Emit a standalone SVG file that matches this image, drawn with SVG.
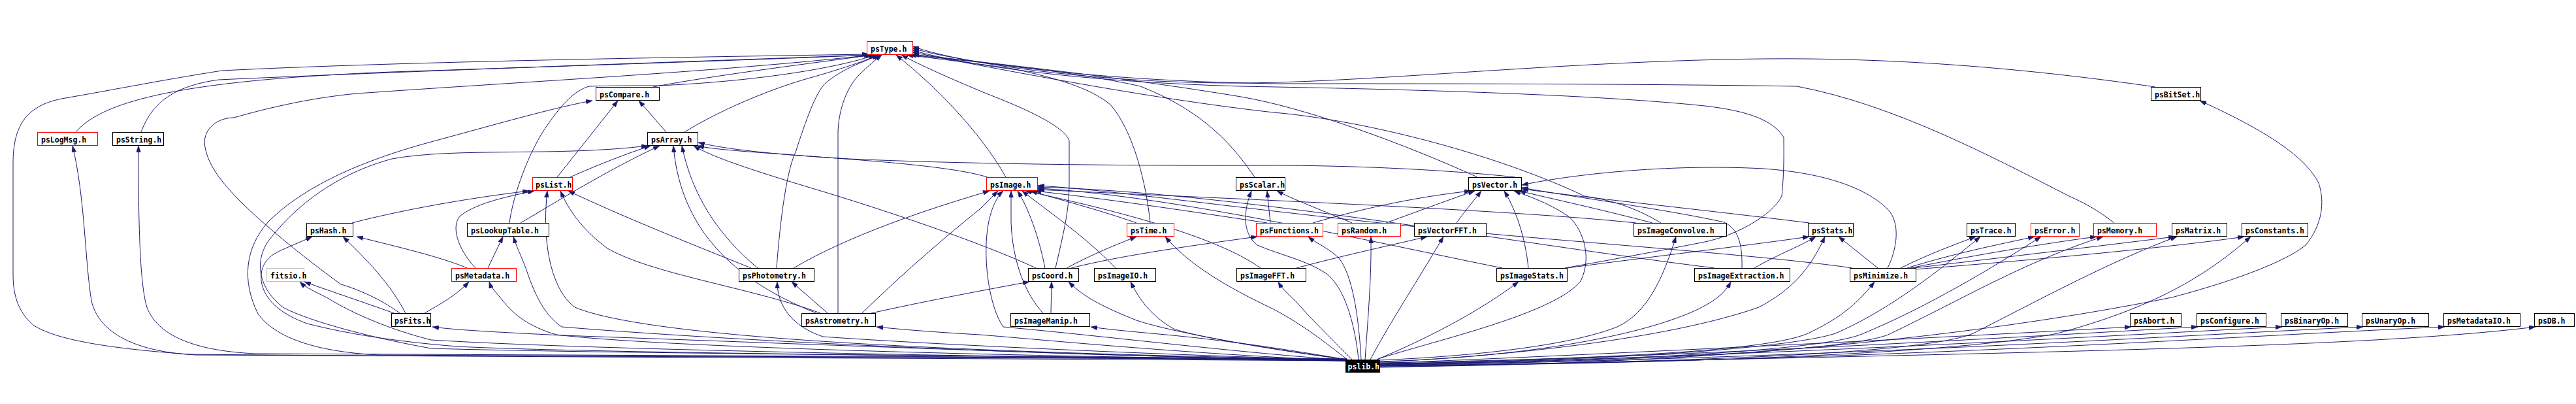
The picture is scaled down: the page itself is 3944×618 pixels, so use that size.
<svg xmlns="http://www.w3.org/2000/svg" width="3944" height="618" viewBox="0 0 3944 618">
<style>
.n rect{fill:#fff;stroke:#000;stroke-width:1}
.n.r rect{stroke:#f00}
.n.g rect{stroke:#bfbfbf}
.n.k rect{fill:#000}
.n text{font-family:"DejaVu Sans Mono","Liberation Mono",monospace;font-size:11.5px;font-weight:bold;fill:#000}
.n.k text{fill:#fff}
#edges path{fill:none;stroke:#191970;stroke-width:1;marker-end:url(#a)}
</style>
<defs>
<marker id="a" viewBox="0 0 10 7" refX="10" refY="3.5" markerWidth="10" markerHeight="7" markerUnits="userSpaceOnUse" orient="auto"><path d="M0,0L10,3.5L0,7z" fill="#191970" stroke="#191970" stroke-width="0.5"/></marker>
</defs>
<rect width="3944" height="618" fill="#fff"/>
<g id="edges">
<path d="M1000,133 C1100,114 1250,96 1336,84"/>
<path d="M3300,133 C3100,104 2900,88 2700,90 C2400,93 2100,126 1900,127 C1700,128 1480,100 1397,71"/>
<path d="M116,202 C160,150 300,122 600,110 C900,100 1200,90 1333,84"/>
<path d="M216,202 C232,160 262,132 335,122 C600,110 1000,96 1334,84"/>
<path d="M1048,202 C1100,170 1170,140 1230,122 C1280,108 1320,95 1345,84"/>
<path d="M1020,202 L978,154"/>
<path d="M853,271 L946,154"/>
<path d="M873,271 C920,250 960,235 996,223"/>
<path d="M1540,271 C1500,200 1430,130 1372,84"/>
<path d="M1512,271 C1450,252 1300,244 1200,236 C1130,231 1090,228 1068,223"/>
<path d="M1921,271 C1880,210 1830,165 1746,132 C1650,110 1500,95 1393,84"/>
<path d="M1761,341 C1755,280 1735,200 1700,160 C1670,135 1620,120 1550,105 C1480,95 1420,88 1388,84"/>
<path d="M1616,410 C1630,350 1637,320 1637,280 L1637,215 C1630,195 1580,170 1510,143 C1450,118 1410,100 1380,84"/>
<path d="M2262,271 C2150,220 2000,165 1900,148 C1700,115 1500,95 1397,83"/>
<path d="M2543,341 C2500,315 2460,305 2426,300 C2300,240 2100,185 1950,172 C1750,150 1500,100 1397,80"/>
<path d="M3237,341 C3210,320 3190,310 3168,300 C3050,240 2900,160 2751,132 C2500,128 2200,128 1960,128 C1700,125 1480,98 1397,74"/>
<path d="M2396,410 C2480,395 2560,380 2600,372 C2655,363 2713,330 2728,300 C2732,260 2731,230 2731,210 C2715,185 2680,170 2610,162 C2400,140 2000,134 1900,132 C1650,125 1480,100 1397,77"/>
<path d="M539,341 C600,325 700,305 810,292"/>
<path d="M780,341 C785,300 810,230 839,190 C860,160 880,138 902,132 C940,131 980,131 1008,131 C1150,125 1280,105 1340,84"/>
<path d="M797,341 C850,310 930,260 1010,223"/>
<path d="M747,410 L770,362"/>
<path d="M715,410 C680,395 620,380 546,362"/>
<path d="M728,410 C700,380 690,345 705,330 C730,310 780,300 818,292"/>
<path d="M603,479 C550,460 490,440 466,431"/>
<path d="M621,479 C600,440 575,410 525,362"/>
<path d="M650,479 C680,462 700,450 718,431"/>
<path d="M612,479 C580,455 540,440 522,435 C460,390 400,340 370,310 C340,280 315,250 313,217 C315,190 340,180 358,180 C400,168 470,150 547,143 C800,125 1100,110 1336,84"/>
<path d="M1267,479 L1212,431"/>
<path d="M1283,479 L1283,200 C1285,160 1300,130 1315,115 C1330,100 1340,92 1350,84"/>
<path d="M1334,479 C1420,460 1500,445 1576,431"/>
<path d="M1320,479 C1380,420 1450,360 1500,320 C1515,305 1522,298 1528,292"/>
<path d="M1256,479 C1150,440 1000,420 930,380 C890,350 870,320 858,292"/>
<path d="M1250,479 C1100,420 1040,330 1031,223"/>
<path d="M1189,410 C1195,330 1205,260 1218,233 C1235,180 1250,140 1264,127 C1290,105 1320,95 1348,84"/>
<path d="M1160,410 C1100,360 1060,300 1044,223"/>
<path d="M1215,410 C1300,360 1420,320 1515,292"/>
<path d="M1150,410 C1050,370 950,330 870,292"/>
<path d="M1600,410 C1590,360 1575,320 1558,292"/>
<path d="M1633,410 C1680,385 1720,370 1740,362"/>
<path d="M1640,410 C1720,390 1830,375 1925,362"/>
<path d="M1586,410 C1500,370 1350,320 1250,290 C1150,260 1090,240 1062,223"/>
<path d="M1597,479 C1570,450 1550,400 1548,340 L1548,292"/>
<path d="M1609,479 L1610,431"/>
<path d="M1708,410 C1660,360 1600,320 1565,292"/>
<path d="M1930,410 C1860,360 1700,320 1570,292"/>
<path d="M1985,410 C2060,390 2130,375 2185,362"/>
<path d="M2230,341 C2245,320 2258,305 2268,292"/>
<path d="M2010,341 C2100,315 2180,300 2252,292"/>
<path d="M1945,341 L1940,292"/>
<path d="M1740,341 C1680,320 1620,305 1578,292"/>
<path d="M1940,341 C1800,320 1700,305 1584,292"/>
<path d="M2122,341 C2180,320 2220,305 2258,292"/>
<path d="M2070,341 C2020,320 1980,305 1955,292"/>
<path d="M2505,341 C2300,320 1900,305 1589,290"/>
<path d="M2530,341 C2450,320 2380,305 2326,292"/>
<path d="M2770,341 C2600,320 2450,305 2330,289"/>
<path d="M2399,410 C2550,390 2680,375 2770,362"/>
<path d="M2686,410 C2720,390 2760,375 2780,362"/>
<path d="M2300,410 C2100,370 1800,300 1589,288"/>
<path d="M2340,410 C2335,360 2320,320 2303,292"/>
<path d="M2625,410 C2300,370 1900,295 1589,286"/>
<path d="M2667,410 C2668,370 2660,350 2640,340 C2550,320 2400,300 2330,287"/>
<path d="M2890,410 C2905,380 2910,340 2890,320 C2860,290 2800,265 2700,258 C2550,250 2400,268 2330,283"/>
<path d="M2875,410 L2815,362"/>
<path d="M2910,410 C2950,390 2990,375 3025,362"/>
<path d="M2920,410 C3000,385 3080,370 3115,362"/>
<path d="M2925,410 C3050,385 3150,370 3210,362"/>
<path d="M2930,410 C3100,390 3250,372 3330,362"/>
<path d="M2932,412 C3150,395 3350,375 3436,362"/>
<path d="M2836,410 C2700,390 2400,370 2200,350 C1900,320 1700,290 1589,284"/>
<path d="M2320,271 C2200,258 2050,253 1950,253 C1700,254 1450,250 1300,243 C1180,236 1110,228 1069,218"/>
<path d="M2062,552 C1500,548 700,546 290,542 C180,534 90,522 52,498 C30,480 20,455 20,420 L20,250 C20,192 40,160 100,150 C170,138 250,122 340,108 C600,95 1000,88 1330,83"/>
<path d="M2062,551 C1500,546 700,545 300,543 C200,538 150,505 140,460 C130,400 130,300 111,223"/>
<path d="M2062,550 C1500,545 800,543 390,541 C290,536 240,510 225,470 C212,430 212,300 212,223"/>
<path d="M2062,549 C1500,546 900,545 580,543 C480,538 420,515 395,480 C370,430 375,380 410,340 C450,300 520,255 660,217 C760,190 850,164 907,154"/>
<path d="M2062,549 C1500,545 900,540 660,533 C560,515 470,490 433,470 C395,440 390,400 410,370 C440,330 500,270 600,243 C700,225 850,240 992,223"/>
<path d="M2062,550 C1500,540 1000,520 880,470 C840,440 830,360 838,292"/>
<path d="M2062,551 C1900,540 1700,515 1536,500 C1515,470 1505,400 1512,350 C1516,320 1527,300 1536,292"/>
<path d="M2080,550 C2075,500 2060,440 2030,418 C2000,398 1960,390 1925,375 C1900,355 1905,320 1916,292"/>
<path d="M2062,550 C1500,545 900,540 700,530 C600,522 530,510 470,495 C430,480 405,460 400,430 C398,405 410,392 430,383 C450,374 465,368 478,362"/>
<path d="M2062,551 C1600,545 1100,520 860,500 C830,480 815,440 805,410 C795,385 790,375 786,362"/>
<path d="M2063,550 C2030,525 2000,500 1950,473 C1880,440 1820,405 1784,362"/>
<path d="M2084,550 C2080,480 2070,420 2050,395 C2035,380 2015,372 2003,362"/>
<path d="M2090,550 C2095,480 2100,420 2099,362"/>
<path d="M2098,550 C2130,490 2170,430 2210,362"/>
<path d="M2108,550 C2180,520 2260,480 2325,431"/>
<path d="M2110,549 C2200,520 2380,480 2420,430 C2440,390 2420,345 2400,330 C2370,310 2340,300 2318,292"/>
<path d="M2112,551 C2250,545 2400,530 2476,500 C2520,480 2545,430 2566,362"/>
<path d="M2112,553 C2300,548 2500,520 2600,473 C2625,460 2640,450 2650,431"/>
<path d="M2112,554 C2300,545 2550,520 2693,470 C2740,445 2770,415 2794,362"/>
<path d="M2112,555 C2400,550 2700,540 2768,510 C2810,490 2840,470 2870,431"/>
<path d="M2112,556 C2500,552 2750,530 2810,510 C2880,480 2950,430 3032,362"/>
<path d="M2112,557 C2500,553 2800,535 2853,510 C2950,470 3050,410 3125,362"/>
<path d="M2112,558 C2500,554 2850,535 2895,510 C3000,460 3100,400 3220,362"/>
<path d="M2112,559 C2600,555 2950,540 3021,510 C3120,460 3230,400 3333,362"/>
<path d="M2112,560 C2600,556 3000,540 3150,510 C3300,470 3380,420 3446,362"/>
<path d="M2112,561 C2700,558 3100,500 3325,455 C3420,430 3500,400 3530,375 C3555,345 3560,310 3550,280 C3530,240 3470,200 3368,154"/>
<path d="M2112,556 C2500,540 3000,515 3263,500"/>
<path d="M2112,557 C2600,545 3100,515 3365,500"/>
<path d="M2112,558 C2700,545 3200,515 3494,500"/>
<path d="M2112,559 C2800,548 3300,515 3618,500"/>
<path d="M2112,560 C2900,552 3400,515 3743,500"/>
<path d="M2112,562 C3000,540 3600,535 3882,500"/>
<path d="M2062,552 C1700,545 1200,525 860,513 C760,508 700,505 662,500"/>
<path d="M2062,552 C1800,540 1600,520 1500,512 C1430,508 1380,504 1342,500"/>
<path d="M2062,550 C2000,540 1900,522 1763,510 C1720,506 1690,503 1670,500"/>
<path d="M2062,552 C1500,546 900,535 660,520 C600,505 540,480 500,455 C480,445 468,440 459,431"/>
<path d="M2062,551 C1500,545 1000,530 852,512 C810,500 785,480 770,460 C760,448 752,440 749,431"/>
<path d="M2062,551 C1700,540 1400,525 1260,515 C1215,500 1190,470 1190,431"/>
<path d="M2062,550 C1950,535 1800,510 1740,490 C1690,470 1660,455 1636,431"/>
<path d="M2062,550 C1950,535 1830,515 1797,503 C1765,485 1745,460 1731,431"/>
<path d="M2070,550 C2040,520 2000,480 1985,462 C1970,448 1962,440 1957,431"/>
</g>
<g id="node-psType" class="n r"><rect x="1327.5" y="63.5" width="70" height="20"/><text x="1333" y="78.5">psType.h</text></g>
<g id="node-psCompare" class="n"><rect x="912.5" y="133.5" width="97" height="20"/><text x="918" y="148.5">psCompare.h</text></g>
<g id="node-psBitSet" class="n"><rect x="3293.5" y="133.5" width="76" height="20"/><text x="3299" y="148.5">psBitSet.h</text></g>
<g id="node-psLogMsg" class="n r"><rect x="57.5" y="202.5" width="92" height="20"/><text x="63" y="217.5">psLogMsg.h</text></g>
<g id="node-psString" class="n"><rect x="172.5" y="202.5" width="78" height="20"/><text x="178" y="217.5">psString.h</text></g>
<g id="node-psArray" class="n"><rect x="991.5" y="202.5" width="77" height="20"/><text x="997" y="217.5">psArray.h</text></g>
<g id="node-psList" class="n r"><rect x="815.5" y="271.5" width="61" height="20"/><text x="820" y="286.5">psList.h</text></g>
<g id="node-psImage" class="n r"><rect x="1510.5" y="271.5" width="78" height="20"/><text x="1516" y="286.5">psImage.h</text></g>
<g id="node-psScalar" class="n"><rect x="1892.5" y="271.5" width="75" height="20"/><text x="1898" y="286.5">psScalar.h</text></g>
<g id="node-psVector" class="n"><rect x="2248.5" y="271.5" width="81" height="20"/><text x="2254" y="286.5">psVector.h</text></g>
<g id="node-psHash" class="n"><rect x="469.5" y="341.5" width="71" height="20"/><text x="475" y="356.5">psHash.h</text></g>
<g id="node-psLookupTable" class="n"><rect x="715.5" y="341.5" width="125" height="20"/><text x="721" y="356.5">psLookupTable.h</text></g>
<g id="node-psTime" class="n r"><rect x="1725.5" y="341.5" width="72" height="20"/><text x="1731" y="356.5">psTime.h</text></g>
<g id="node-psFunctions" class="n r"><rect x="1923.5" y="341.5" width="102" height="20"/><text x="1929" y="356.5">psFunctions.h</text></g>
<g id="node-psRandom" class="n r"><rect x="2048.5" y="341.5" width="96" height="20"/><text x="2054" y="356.5">psRandom.h</text></g>
<g id="node-psVectorFFT" class="n"><rect x="2165.5" y="341.5" width="110" height="20"/><text x="2171" y="356.5">psVectorFFT.h</text></g>
<g id="node-psImageConvolve" class="n"><rect x="2501.5" y="341.5" width="142" height="20"/><text x="2507" y="356.5">psImageConvolve.h</text></g>
<g id="node-psStats" class="n"><rect x="2768.5" y="341.5" width="69" height="20"/><text x="2774" y="356.5">psStats.h</text></g>
<g id="node-psTrace" class="n"><rect x="3011.5" y="341.5" width="74" height="20"/><text x="3017" y="356.5">psTrace.h</text></g>
<g id="node-psError" class="n r"><rect x="3109.5" y="341.5" width="74" height="20"/><text x="3115" y="356.5">psError.h</text></g>
<g id="node-psMemory" class="n r"><rect x="3205.5" y="341.5" width="96" height="20"/><text x="3211" y="356.5">psMemory.h</text></g>
<g id="node-psMatrix" class="n"><rect x="3325.5" y="341.5" width="84" height="20"/><text x="3331" y="356.5">psMatrix.h</text></g>
<g id="node-psConstants" class="n"><rect x="3432.5" y="341.5" width="101" height="20"/><text x="3438" y="356.5">psConstants.h</text></g>
<g id="node-fitsio" class="n g"><rect x="408.5" y="410.5" width="57" height="20"/><text x="414" y="425.5">fitsio.h</text></g>
<g id="node-psMetadata" class="n r"><rect x="691.5" y="410.5" width="99" height="20"/><text x="697" y="425.5">psMetadata.h</text></g>
<g id="node-psPhotometry" class="n"><rect x="1131.5" y="410.5" width="115" height="20"/><text x="1137" y="425.5">psPhotometry.h</text></g>
<g id="node-psCoord" class="n"><rect x="1574.5" y="410.5" width="77" height="20"/><text x="1580" y="425.5">psCoord.h</text></g>
<g id="node-psImageIO" class="n"><rect x="1675.5" y="410.5" width="94" height="20"/><text x="1681" y="425.5">psImageIO.h</text></g>
<g id="node-psImageFFT" class="n"><rect x="1893.5" y="410.5" width="106" height="20"/><text x="1899" y="425.5">psImageFFT.h</text></g>
<g id="node-psImageStats" class="n"><rect x="2291.5" y="410.5" width="108" height="20"/><text x="2297" y="425.5">psImageStats.h</text></g>
<g id="node-psImageExtraction" class="n"><rect x="2594.5" y="410.5" width="146" height="20"/><text x="2600" y="425.5">psImageExtraction.h</text></g>
<g id="node-psMinimize" class="n"><rect x="2832.5" y="410.5" width="101" height="20"/><text x="2838" y="425.5">psMinimize.h</text></g>
<g id="node-psFits" class="n"><rect x="599.5" y="479.5" width="60" height="20"/><text x="604" y="494.5">psFits.h</text></g>
<g id="node-psAstrometry" class="n"><rect x="1227.5" y="479.5" width="113" height="20"/><text x="1233" y="494.5">psAstrometry.h</text></g>
<g id="node-psImageManip" class="n"><rect x="1547.5" y="479.5" width="121" height="20"/><text x="1553" y="494.5">psImageManip.h</text></g>
<g id="node-psAbort" class="n"><rect x="3261.5" y="479.5" width="78" height="20"/><text x="3267" y="494.5">psAbort.h</text></g>
<g id="node-psConfigure" class="n"><rect x="3363.5" y="479.5" width="106" height="20"/><text x="3369" y="494.5">psConfigure.h</text></g>
<g id="node-psBinaryOp" class="n"><rect x="3492.5" y="479.5" width="102" height="20"/><text x="3498" y="494.5">psBinaryOp.h</text></g>
<g id="node-psUnaryOp" class="n"><rect x="3616.5" y="479.5" width="102" height="20"/><text x="3622" y="494.5">psUnaryOp.h</text></g>
<g id="node-psMetadataIO" class="n"><rect x="3741.5" y="479.5" width="117" height="20"/><text x="3747" y="494.5">psMetadataIO.h</text></g>
<g id="node-psDB" class="n"><rect x="3880.5" y="479.5" width="61" height="20"/><text x="3886" y="494.5">psDB.h</text></g>
<g id="node-pslib" class="n k"><rect x="2060.5" y="550.5" width="52" height="19"/><text x="2063.5" y="565">pslib.h</text></g>
</svg>
